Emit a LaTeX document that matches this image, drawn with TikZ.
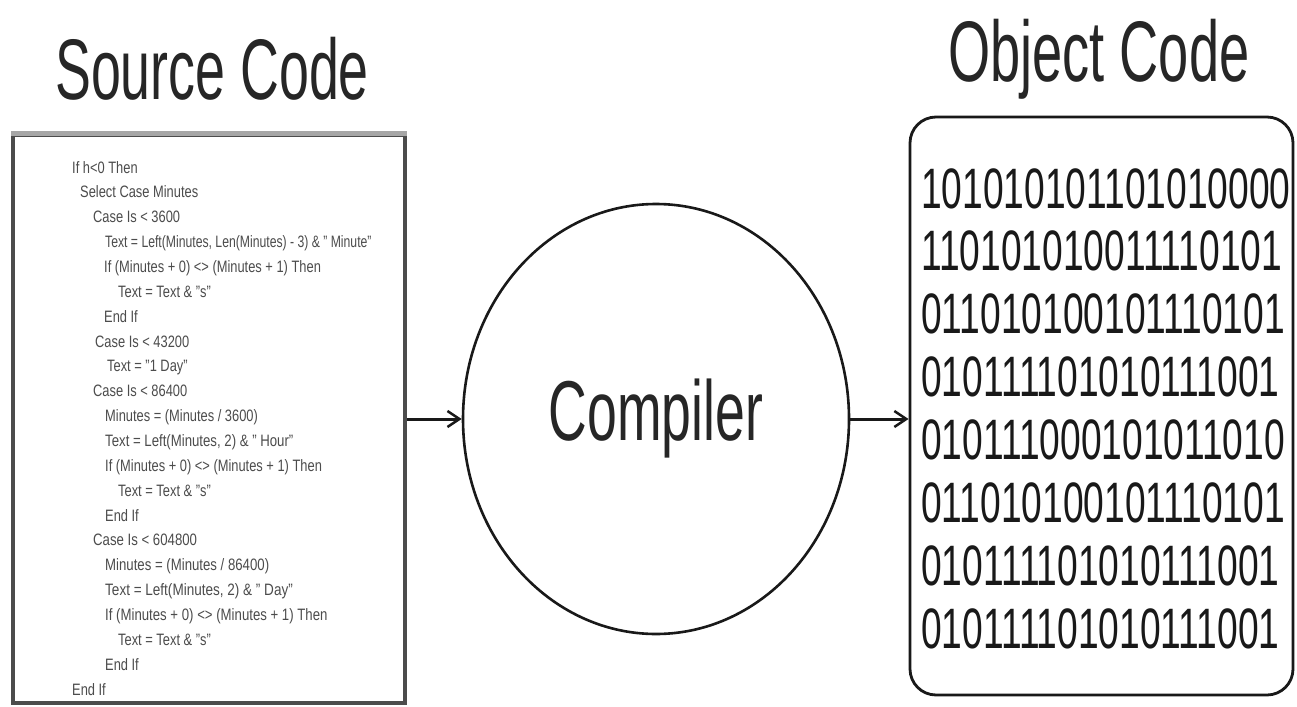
\documentclass[tikz,border=0pt]{standalone}
\usepackage{fontspec}
\setmainfont{Liberation Sans}
\usetikzlibrary{shapes.geometric,arrows.meta}
\newcommand{\sqz}[2][0.62]{\scalebox{#1}[1]{#2}}
\tikzset{
  titletext/.style={anchor=base west, inner sep=0pt, text=black!85, font=\fontsize{86}{90}\selectfont},
  codeline/.style={anchor=base west, inner sep=0pt, text=black!70, font=\fontsize{16.5}{18}\selectfont},
  bits/.style={anchor=base west, inner sep=0pt, text=black!90, font=\fontsize{57}{60}\selectfont},
  arr/.style={-{Straight Barb[length=12pt,width=16pt,line width=2.5pt]}, line width=3pt, draw=black!90},
  srcbox/.style={draw=black!70, line width=3.5pt, rectangle, inner sep=0pt, minimum width=392pt, minimum height=568pt},
  objbox/.style={draw=black!90, line width=2.8pt, rectangle, rounded corners=26pt, inner sep=0pt, minimum width=383pt, minimum height=578pt},
  compbox/.style={draw=black!90, line width=2.6pt, ellipse, inner sep=0pt, minimum width=386pt, minimum height=430pt},
}
\begin{document}
\begin{tikzpicture}[x=1pt,y=-1pt]
\useasboundingbox[fill=white] (0,0) rectangle (1297,706);

% titles
\node[titletext] (tsrc) at (55,100) {\sqz[0.625]{Source Code}};
\node[titletext] (tobj) at (948,82) {\sqz[0.63]{Object Code}};

% boxes
\node[srcbox] (src) at (209,419) {};
\draw[gray!70, line width=5pt] (src.north west) -- (src.north east);
\node[compbox] (cmp) at (656,419) {};
\node[anchor=base, inner sep=0pt, text=black!85, font=\fontsize{85}{90}\selectfont] (cmplabel) at (656,440) {\sqz[0.63]{Compiler}};
\node[objbox] (obj) at (1101.5,406) {};

% arrows
\draw[arr] (src.east) -- (cmp.west);
\draw[arr] (cmp.east) -- (obj.west |- cmp.east);

% source code lines
\node[codeline] (s1)  at (72,173)   {\sqz[0.78]{If h<0 Then}};
\node[codeline] (s2)  at (80,197.9) {\sqz[0.78]{Select Case Minutes}};
\node[codeline] (s3)  at (93,222.7) {\sqz[0.78]{Case Is < 3600}};
\node[codeline] (s4)  at (105,247.6) {\sqz[0.74]{Text = Left(Minutes, Len(Minutes) - 3) \& " Minute"}};
\node[codeline] (s5)  at (104,272.4) {\sqz[0.78]{If (Minutes + 0) <> (Minutes + 1) Then}};
\node[codeline] (s6)  at (118,297.3) {\sqz[0.78]{Text = Text \& "s"}};
\node[codeline] (s7)  at (104,322.2) {\sqz[0.78]{End If}};
\node[codeline] (s8)  at (95,347)   {\sqz[0.78]{Case Is < 43200}};
\node[codeline] (s9)  at (107,371.9) {\sqz[0.78]{Text = "1 Day"}};
\node[codeline] (s10) at (93,396.7) {\sqz[0.78]{Case Is < 86400}};
\node[codeline] (s11) at (105,421.6) {\sqz[0.78]{Minutes = (Minutes / 3600)}};
\node[codeline] (s12) at (105,446.5) {\sqz[0.8]{Text = Left(Minutes, 2) \& " Hour"}};
\node[codeline] (s13) at (105,471.3) {\sqz[0.78]{If (Minutes + 0) <> (Minutes + 1) Then}};
\node[codeline] (s14) at (118,496.2) {\sqz[0.78]{Text = Text \& "s"}};
\node[codeline] (s15) at (105,521)   {\sqz[0.78]{End If}};
\node[codeline] (s16) at (93,545.9) {\sqz[0.8]{Case Is < 604800}};
\node[codeline] (s17) at (105,570.8) {\sqz[0.8]{Minutes = (Minutes / 86400)}};
\node[codeline] (s18) at (105,595.6) {\sqz[0.82]{Text = Left(Minutes, 2) \& " Day"}};
\node[codeline] (s19) at (105,620.5) {\sqz[0.8]{If (Minutes + 0) <> (Minutes + 1) Then}};
\node[codeline] (s20) at (118,645.3) {\sqz[0.78]{Text = Text \& "s"}};
\node[codeline] (s21) at (105,670.2) {\sqz[0.78]{End If}};
\node[codeline] (s22) at (72,695)   {\sqz[0.78]{End If}};

% object code lines
\node[bits] (b1) at (921,208)   {\sqz[0.652]{101010101101010000}};
\node[bits] (b2) at (921,270.9) {\sqz[0.652]{110101010011110101}};
\node[bits] (b3) at (921,333.8) {\sqz[0.652]{011010100101110101}};
\node[bits] (b4) at (921,396.7) {\sqz[0.652]{010111101010111001}};
\node[bits] (b5) at (921,459.6) {\sqz[0.652]{010111000101011010}};
\node[bits] (b6) at (921,522.5) {\sqz[0.652]{011010100101110101}};
\node[bits] (b7) at (921,585.4) {\sqz[0.652]{010111101010111001}};
\node[bits] (b8) at (921,648.3) {\sqz[0.652]{010111101010111001}};
\end{tikzpicture}
\end{document}
